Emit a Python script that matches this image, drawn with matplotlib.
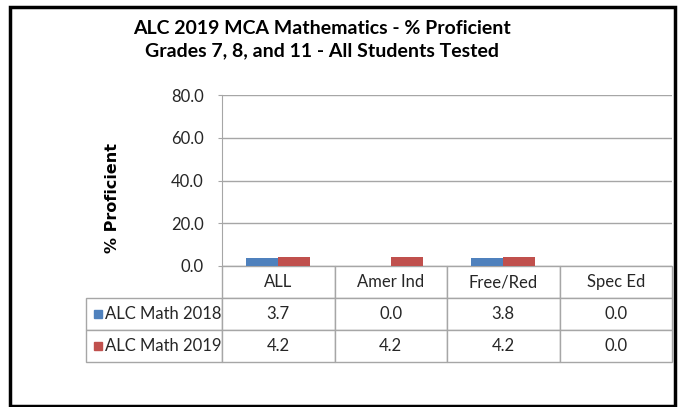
import matplotlib.pyplot as plt
from matplotlib.patches import Rectangle
from matplotlib.table import Table

categories = ['ALL', 'Amer Ind', 'Free/Red', 'Spec Ed']
series_names = ['ALC Math 2018', 'ALC Math 2019']
math_2018 = [3.7, 0.0, 3.8, 0.0]
math_2019 = [4.2, 4.2, 4.2, 0.0]
y_ticks = [0, 20, 40, 60, 80]

BLUE = '#4f81bd'
RED = '#c0504d'
GRID = '#a6a6a6'
FONT = 'Lato'

W, H = 682, 407
fig = plt.figure(figsize=(W / 100, H / 100), dpi=100)

# outer frame
fig.patches.append(Rectangle((10 / W, 1 - 406 / H), 665 / W, 399 / H,
                             transform=fig.transFigure, fill=False,
                             edgecolor='black', linewidth=2.5))

# plot area in pixel terms: x 222..672, y 95..266
AX_W, AX_H = 450, 171
ax = fig.add_axes([222 / W, 1 - 266 / H, AX_W / W, AX_H / H])

x = list(range(len(categories)))
bw = 0.285
ax.bar([i - bw / 2 for i in x], math_2018, width=bw, color=BLUE, zorder=3)
ax.bar([i + bw / 2 for i in x], math_2019, width=bw, color=RED, zorder=3)

ax.set_xlim(-0.5, len(categories) - 0.5)
ax.set_ylim(0, 80)
ax.set_yticks(y_ticks)
ax.set_yticklabels([f'{v:.1f}' for v in y_ticks], fontsize=12,
                   family=FONT, color='#262626')
ax.tick_params(axis='y', length=3, color=GRID, pad=10)
ax.set_xticks([])
ax.yaxis.grid(True, color=GRID, linewidth=1)
ax.set_axisbelow(True)
for side in ['top', 'right', 'bottom']:
    ax.spines[side].set_visible(False)
ax.spines['left'].set_color(GRID)

ax.set_ylabel('% Proficient', fontsize=11.5, fontweight='bold',
              family='DejaVu Sans')
ax.yaxis.set_label_coords((120 - 222) / AX_W, (266 - 198) / AX_H)

# data table under the axis, sizes in axes fractions
col_w = 1 / len(categories)
label_w = 136 / AX_W
row_h = 32 / AX_H
tbl = Table(ax, bbox=[0, -3 * row_h, 1, 3 * row_h])
for j, cat in enumerate(categories):
    tbl.add_cell(0, j, col_w, row_h, text=cat, loc='center')
for i, (name, vals) in enumerate(zip(series_names, [math_2018, math_2019])):
    c = tbl.add_cell(i + 1, -1, label_w, row_h, text=name, loc='left')
    c.PAD = 0.14
    for j, v in enumerate(vals):
        tbl.add_cell(i + 1, j, col_w, row_h, text=f'{v:.1f}', loc='center')
tbl.auto_set_font_size(False)
tbl.set_fontsize(12)
for cell in tbl.get_celld().values():
    cell.get_text().set_family(FONT)
    cell.get_text().set_color('#262626')
    cell.set_edgecolor(GRID)
    cell.set_linewidth(1)
ax.add_table(tbl)

# legend keys inside the row label cells
for i, color in enumerate([BLUE, RED]):
    yc = (266 - (314 + 32 * i)) / AX_H
    ax.add_patch(Rectangle(((94 - 222) / AX_W, yc - 4 / AX_H), 8 / AX_W, 8 / AX_H,
                           transform=ax.transAxes, color=color, clip_on=False))

fig.text(322 / W, 1 - 28 / H, 'ALC 2019 MCA Mathematics - % Proficient',
         ha='center', va='center', fontsize=14, fontweight='bold', family=FONT)
fig.text(322 / W, 1 - 51 / H, 'Grades 7, 8, and 11 - All Students Tested',
         ha='center', va='center', fontsize=14, fontweight='bold', family=FONT)

fig.savefig('out.png', dpi=100)
